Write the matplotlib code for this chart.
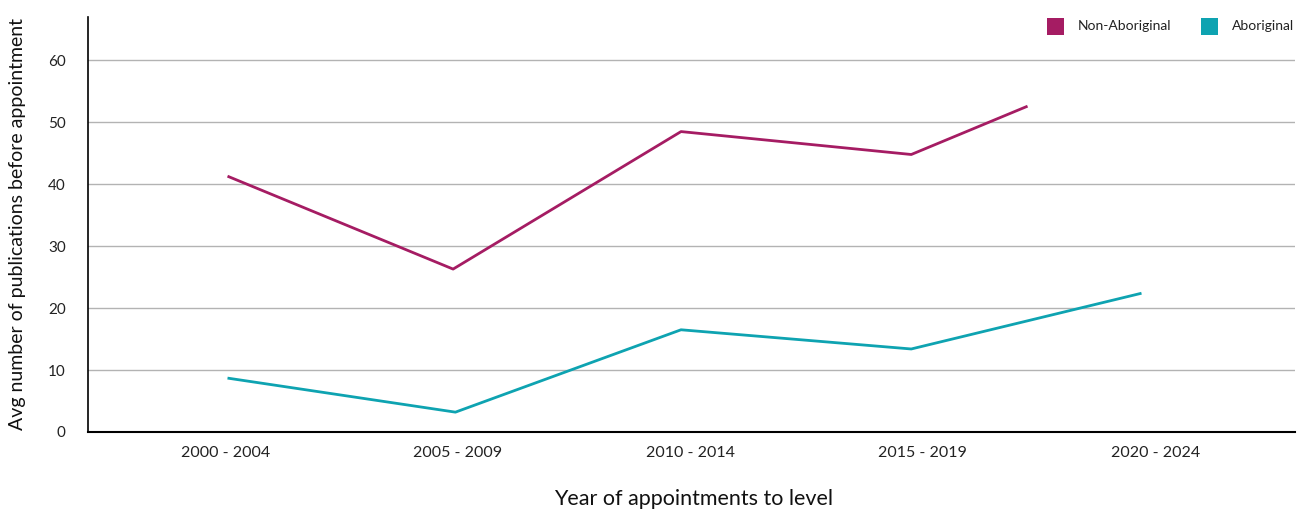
import matplotlib.pyplot as plt
import matplotlib.patches as patches

plt.rcParams['font.family'] = ['Lato', 'DejaVu Sans']

# --- DATA ---
periods = ['2000 - 2004', '2005 - 2009', '2010 - 2014', '2015 - 2019', '2020 - 2024']
# x positions of the plotted points, in category units
non_ab_x = [0.01, 0.98, 1.96, 2.95, 3.45]
non_ab_vals = [41.3, 26.3, 48.5, 44.8, 52.6]
ab_x = [0.01, 0.99, 1.96, 2.95, 3.94]
ab_vals = [8.7, 3.2, 16.5, 13.4, 22.4]
y_ticks = [0, 10, 20, 30, 40, 50, 60]

NON_AB_COLOR = '#A51C63'
AB_COLOR = '#0EA3B1'

fig = plt.figure(figsize=(13.09, 5.12), dpi=100, facecolor='white')
ax = fig.add_axes([0.0672, 0.1563, 0.9221, 0.8105])

for y in y_ticks[1:]:
    ax.axhline(y, color='#b3b3b3', lw=1.0, zorder=1)

ax.plot(non_ab_x, non_ab_vals, color=NON_AB_COLOR, lw=2.0, zorder=5, solid_capstyle='butt')
ax.plot(ab_x, ab_vals, color=AB_COLOR, lw=2.0, zorder=5, solid_capstyle='butt')

ax.set_xlim(-0.59, 4.6)
ax.set_ylim(0, 67)
ax.set_xticks(range(len(periods)))
ax.set_xticklabels(periods, fontsize=11.5, color='#222222')
ax.set_yticks(y_ticks)
ax.set_yticklabels([str(v) for v in y_ticks], fontsize=11, color='#222222')
ax.tick_params(length=0, pad=10)
ax.tick_params(axis='y', pad=16)

for s in ['top', 'right']:
    ax.spines[s].set_visible(False)
ax.spines['left'].set_linewidth(1.2)
ax.spines['bottom'].set_linewidth(1.5)

fig.text(18 / 1309, (512 - 224) / 512, 'Avg number of publications before appointment',
         rotation=90, fontsize=14, color='#111111', ha='center', va='center')
fig.text(694 / 1309, (512 - 499) / 512, 'Year of appointments to level',
         fontsize=15.5, color='#111111', ha='center', va='center')

# legend, drawn as squares in figure coordinates
legend_items = [('Non-Aboriginal', NON_AB_COLOR, 1047), ('Aboriginal', AB_COLOR, 1201)]
for label, color, px in legend_items:
    fig.patches.append(patches.Rectangle((px / 1309, (512 - 35) / 512), 17 / 1309, 17 / 512,
                                         transform=fig.transFigure, facecolor=color, edgecolor='none'))
    fig.text((px + 31) / 1309, (512 - 26.5) / 512, label, fontsize=10, color='#222222', va='center', ha='left')

fig.savefig('out.png', dpi=100, facecolor='white')
